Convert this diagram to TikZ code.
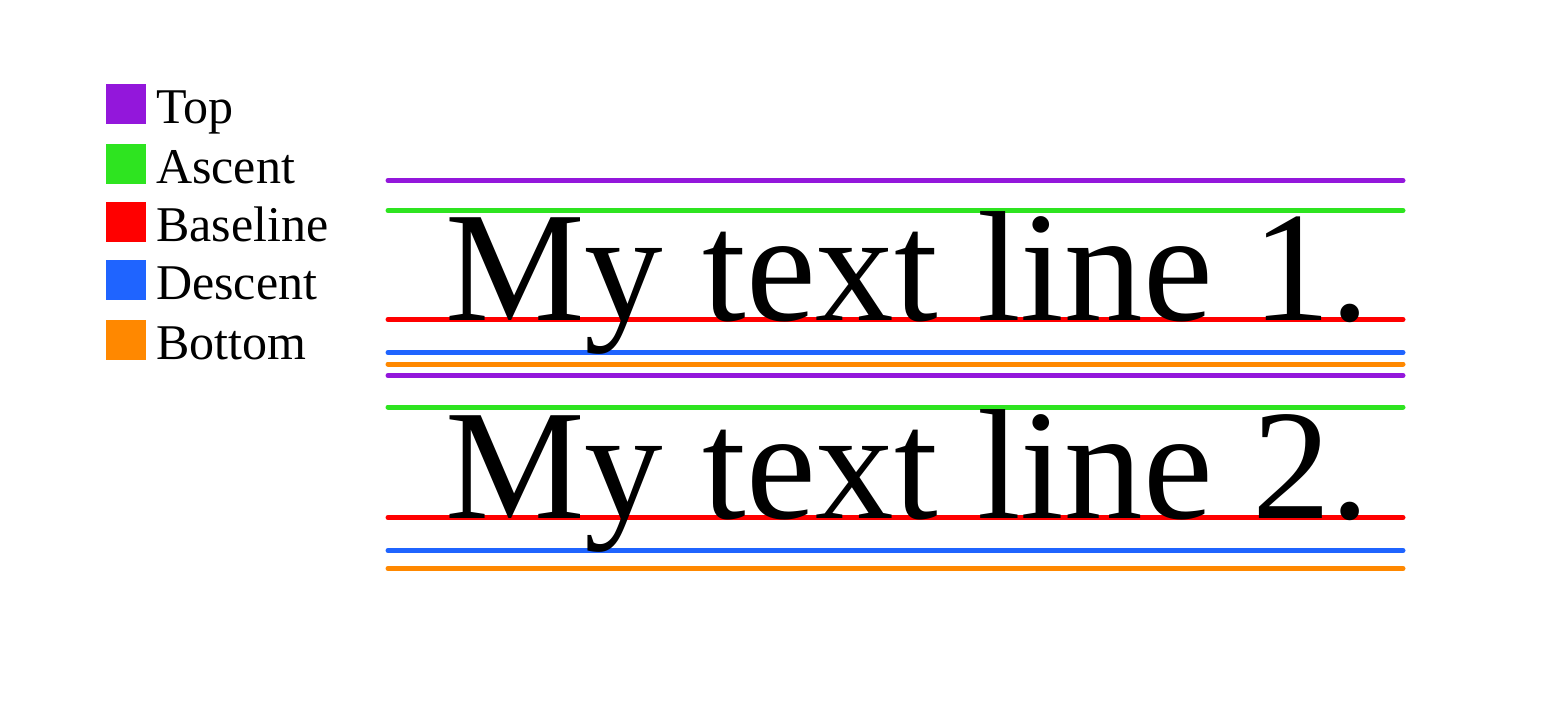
\documentclass[tikz,border=0pt]{standalone}
\usepackage{fontspec}
\setmainfont{Liberation Serif}
\definecolor{ctop}{RGB}{147,23,219}
\definecolor{casc}{RGB}{46,228,32}
\definecolor{cbase}{RGB}{255,0,0}
\definecolor{cdesc}{RGB}{31,100,255}
\definecolor{cbot}{RGB}{255,136,0}
\tikzset{
  mline/.style={line width=5pt, line cap=round},
  swatch/.style={inner sep=0pt, minimum size=40pt, anchor=north west},
  legtext/.style={inner sep=0pt, anchor=base west, font=\fontsize{50}{60}\selectfont},
  bigtext/.style={inner sep=0pt, anchor=base west, font=\fontsize{157}{180}\selectfont}
}
\begin{document}
\begin{tikzpicture}[x=1pt,y=-1pt]
\useasboundingbox (0,0) rectangle (1543,717);
% legend
\node[swatch, fill=ctop]  (s1) at (106,84) {};
\node[swatch, fill=casc]  (s2) at (106,144) {};
\node[swatch, fill=cbase] (s3) at (106,202) {};
\node[swatch, fill=cdesc] (s4) at (106,260) {};
\node[swatch, fill=cbot]  (s5) at (106,320) {};
\node[legtext] (t1) at (156,123) {Top};
\node[legtext] (t2) at (156,183) {Ascent};
\node[legtext] (t3) at (156,241) {Baseline};
\node[legtext] (t4) at (156,299) {Descent};
\node[legtext] (t5) at (156,359) {Bottom};
% line 1
\draw[mline, ctop]  (388,180.5) -- (1403,180.5);
\draw[mline, casc]  (388,210.5) -- (1403,210.5);
\draw[mline, cbase] (388,319.5) -- (1403,319.5);
\draw[mline, cdesc] (388,352.5) -- (1403,352.5);
\draw[mline, cbot]  (388,364) -- (1403,364);
% line 2
\draw[mline, ctop]  (388,375.5) -- (1403,375.5);
\draw[mline, casc]  (388,407) -- (1403,407);
\draw[mline, cbase] (388,517.5) -- (1403,517.5);
\draw[mline, cdesc] (388,550.5) -- (1403,550.5);
\draw[mline, cbot]  (388,568.5) -- (1403,568.5);
% text
\node[bigtext] (l1) at (445,320) {My text line 1.};
\node[bigtext] (l2) at (445,518) {My text line 2.};
\end{tikzpicture}
\end{document}
